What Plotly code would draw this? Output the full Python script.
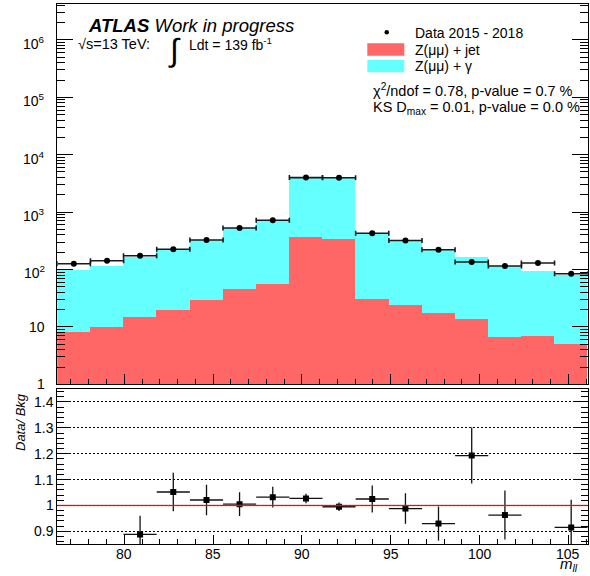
import math
import plotly.graph_objects as go

# ---------------- data ----------------
bin_centers = [77.16, 79.03, 80.89, 82.76, 84.63, 86.49, 88.36, 90.23,
               92.09, 93.96, 95.83, 97.69, 99.56, 101.43, 103.29, 105.16]
data_counts = [126, 142, 174, 225, 327, 529, 720, 3990,
               3960, 428, 320, 221, 135, 115, 130, 84.5]
mc_total = [95, 116, 161, 219, 318, 522, 708, 3975,
            3975, 421, 323, 216, 165, 114, 91.6, 78]
zjet = [7.9, 9.7, 14.5, 19.7, 29, 44.5, 55.9, 364,
        340, 30.6, 24.1, 17.5, 13.3, 6.7, 6.9, 5.0]
ratio_vals = [None, None, 0.888, 1.052, 1.021, 1.005, 1.032, 1.027,
              0.995, 1.025, 0.988, 0.930, 1.193, 0.963, None, 0.915]
ratio_errs = [None, None, 0.072, 0.074, 0.059, 0.046, 0.040, 0.018,
              0.016, 0.052, 0.059, 0.066, 0.108, 0.095, None, 0.107]
log_tickvals = [1, 10, 100, 1000, 1e4, 1e5, 1e6]
log_ticktext = ["1", "10", "10<sup>2</sup>", "10<sup>3</sup>", "10<sup>4</sup>",
                "10<sup>5</sup>", "10<sup>6</sup>"]
ratio_tickvals = [0.9, 1.0, 1.1, 1.2, 1.3, 1.4]
ratio_ticktext = ["0.9", "1", "1.1", "1.2", "1.3", "1.4"]
mass_tickvals = [80, 85, 90, 95, 100, 105]
mass_ticktext = ["80", "85", "90", "95", "100", "105"]

bin_width = 1.866
x_range = [76.23, 106.09]

W, H = 590, 576
FONT = "Liberation Sans, Arial, Helvetica, sans-serif"


def px(x):
    return x / W


def py(y):
    return 1 - y / H


minor_log = [m * 10 ** k for k in range(0, 7) for m in range(2, 10)]

fig = go.Figure()

# ---- top panel ----
fig.add_trace(go.Bar(x=bin_centers, y=mc_total, width=bin_width,
                     marker=dict(color="#66ffff", line=dict(width=0)),
                     xaxis="x", yaxis="y", showlegend=False))
fig.add_trace(go.Bar(x=bin_centers, y=zjet, width=bin_width,
                     marker=dict(color="#ff6666", line=dict(width=0)),
                     xaxis="x", yaxis="y", showlegend=False))
fig.add_trace(go.Scatter(x=bin_centers, y=data_counts, mode="markers",
                         marker=dict(color="black", size=6),
                         error_x=dict(type="constant", value=bin_width / 2, width=2.5,
                                      thickness=1.6, color="#1a1a1a"),
                         xaxis="x", yaxis="y", showlegend=False))

# ---- ratio panel ----
fig.add_trace(go.Scatter(x=bin_centers, y=ratio_vals, mode="markers",
                         marker=dict(color="black", size=6, symbol="square"),
                         error_x=dict(type="constant", value=bin_width / 2, width=0,
                                      thickness=1.3, color="#111"),
                         error_y=dict(type="data", array=ratio_errs, width=0,
                                      thickness=1.3, color="#111"),
                         xaxis="x2", yaxis="y2", showlegend=False, cliponaxis=True))

xdom = [px(57.3), px(587.7)]
tick_font = dict(family=FONT, size=14, color="black")

fig.update_layout(
    width=W, height=H, autosize=False,
    margin=dict(l=0, r=0, t=0, b=0),
    paper_bgcolor="white", plot_bgcolor="white",
    barmode="overlay", bargap=0,
    font=dict(family=FONT, color="black"),
    showlegend=False,
    xaxis=dict(domain=xdom, range=x_range, anchor="y",
               showticklabels=False, ticks="inside", ticklen=10, tickwidth=1,
               tickcolor="black", tick0=0, dtick=5,
               minor=dict(ticks="inside", ticklen=5, dtick=1, tick0=0, tickcolor="black"),
               showline=True, linecolor="black", linewidth=1, mirror=True,
               showgrid=False, zeroline=False),
    yaxis=dict(domain=[py(384.3), py(4.3)], type="log", range=[0, 6.62], anchor="x",
               tickmode="array", tickvals=log_tickvals, showticklabels=False,
               ticks="inside", ticklen=16, tickwidth=1, tickcolor="black",
               minor=dict(ticks="inside", ticklen=8, tickmode="array",
                          tickvals=minor_log, tickcolor="black"),
               showline=True, linecolor="black", linewidth=1, mirror="ticks",
               showgrid=False, zeroline=False),
    xaxis2=dict(domain=xdom, range=x_range, anchor="y2",
                tickmode="array", tickvals=mass_tickvals, showticklabels=False,
                ticks="inside", ticklen=9, tickwidth=1, tickcolor="black",
                minor=dict(ticks="inside", ticklen=5, dtick=1, tick0=0, tickcolor="black"),
                showline=True, linecolor="black", linewidth=1, mirror=True,
                showgrid=False, zeroline=False),
    yaxis2=dict(domain=[py(544), py(389.3)], range=[0.851, 1.449], anchor="x2",
                tickmode="array", tickvals=ratio_tickvals, showticklabels=False,
                ticks="inside", ticklen=14, tickwidth=1, tickcolor="black",
                minor=dict(ticks="inside", ticklen=7, dtick=0.02, tick0=0,
                           tickcolor="black", showgrid=False),
                showline=True, linecolor="black", linewidth=1, mirror="ticks",
                showgrid=True, gridcolor="black", gridwidth=1, griddash="2px,2px",
                zeroline=False),
)

shapes = []
# unity line with thin band
shapes.append(dict(type="rect", xref="x2", yref="y2", x0=x_range[0], x1=x_range[1],
                   y0=0.996, y1=1.004, fillcolor="rgba(255,90,90,0.35)",
                   line=dict(width=0), layer="above"))
shapes.append(dict(type="line", xref="x2", yref="y2", x0=x_range[0], x1=x_range[1],
                   y0=1, y1=1, line=dict(color="red", width=1), layer="above"))
# legend boxes
shapes.append(dict(type="rect", xref="paper", yref="paper",
                   x0=px(367.3), x1=px(404.3), y0=py(55.7), y1=py(43.3),
                   fillcolor="#ff6666", line=dict(width=0)))
shapes.append(dict(type="rect", xref="paper", yref="paper",
                   x0=px(367.3), x1=px(404.3), y0=py(72.3), y1=py(60),
                   fillcolor="#66ffff", line=dict(width=0)))
# legend data dot
shapes.append(dict(type="circle", xref="paper", yref="paper",
                   x0=px(384.5), x1=px(389), y0=py(34.5), y1=py(30),
                   fillcolor="black", line=dict(width=0)))
fig.update_layout(shapes=shapes)

# tick labels placed through the axis scales
for v, t in zip(log_tickvals, log_ticktext):
    fig.add_annotation(text=t, xref="paper", x=px(47), xanchor="right",
                       yref="y", y=math.log10(v), yanchor="middle",
                       yshift=(-3 if "sup" in t else 0),
                       showarrow=False, font=tick_font)
for v, t in zip(ratio_tickvals, ratio_ticktext):
    fig.add_annotation(text=t, xref="paper", x=px(55.5), xanchor="right",
                       yref="y2", y=v, yanchor="middle",
                       showarrow=False, font=tick_font)
for v, t in zip(mass_tickvals, mass_ticktext):
    fig.add_annotation(text=t, xref="x2", x=v, xanchor="center",
                       yref="paper", y=py(554), yanchor="middle",
                       showarrow=False, font=tick_font)


def txt(text, x, y, size=14, xanchor="left", yanchor="middle", **kw):
    fig.add_annotation(text=text, x=px(x), y=py(y), xref="paper", yref="paper",
                       showarrow=False, xanchor=xanchor, yanchor=yanchor,
                       font=dict(family=FONT, size=size, color="black"), **kw)


txt("<b><i>ATLAS</i></b> <i>Work in progress</i>", 86.0, 25.0, size=18.5)
txt("\u221As=13 TeV:", 76.0, 43.5, size=14.5)
txt("\u222B", 174.0, 50.0, size=32, xanchor="center")
txt("Ldt = 139 fb<sup>-1</sup>", 187.0, 43.5, size=14)

txt("Data 2015 - 2018", 412.5, 32.5, size=14)
txt("Z(\u03bc\u03bc) + jet", 412.5, 49.5, size=14)
txt("Z(\u03bc\u03bc) + \u03b3", 412.5, 66.0, size=14)
txt("\u03c7<sup>2</sup>/ndof = 0.78, p-value = 0.7 %", 370.5, 90.0, size=14.5)
txt("KS D<sub>max</sub> = 0.01, p-value = 0.0 %", 370.5, 108.0, size=14.5)

txt("<i>Data/ Bkg</i>", 20.0, 422.0, size=13, xanchor="center", textangle=-90)
txt("<i>m</i><sub><i>ll</i></sub>", 558.0, 576.0, size=15, xanchor="left",
    yanchor="bottom")

fig.write_html("out.html", config={"displayModeBar": False},
               post_script="document.body.style.margin='0px';")
